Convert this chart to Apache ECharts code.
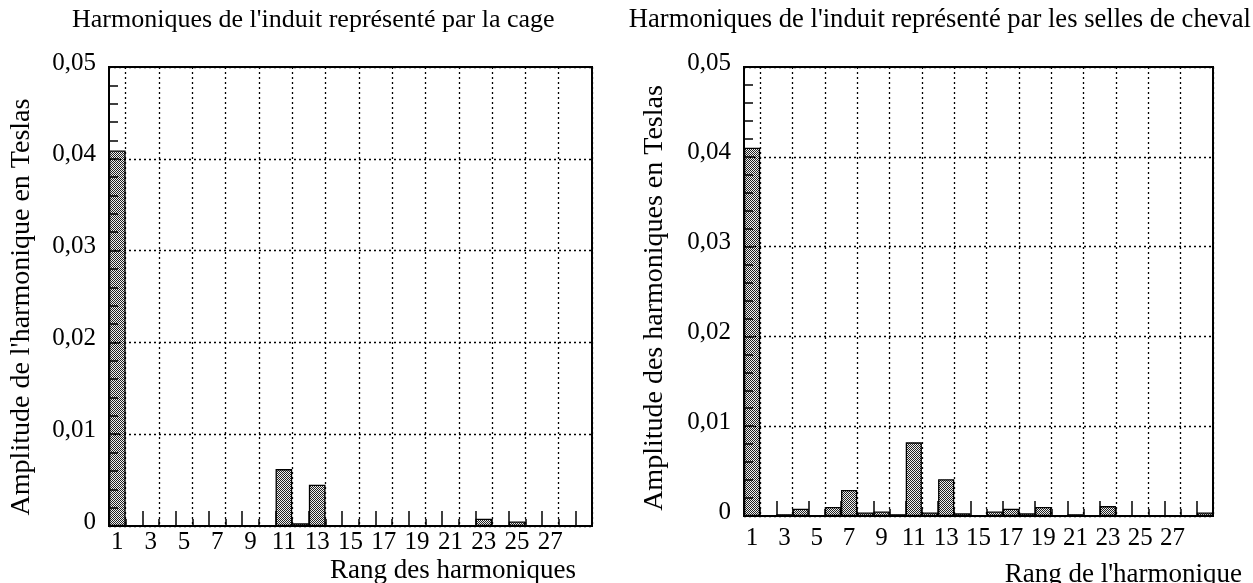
<!DOCTYPE html>
<html>
<head>
<meta charset="utf-8">
<script src="https://cdn.jsdelivr.net/npm/echarts@6/dist/echarts.min.js"></script>
<style>
  html, body { margin: 0; padding: 0; background: #fff; }
  #chart { width: 1253px; height: 583px; }
</style>
</head>
<body>
<div id="chart"></div>
<script>
// Harmonic ranks 1..29 (one bar per rank)
const harmonicRanks = ['1','2','3','4','5','6','7','8','9','10','11','12','13','14','15',
  '16','17','18','19','20','21','22','23','24','25','26','27','28','29'];
// Ranks that carry a label under the axis
const labelledRanks = ['1','3','5','7','9','11','13','15','17','19','21','23','25','27'];

// Amplitude (T) of each harmonic, armature modelled as a squirrel cage
const cageAmplitude = [0.0409, 0.0001, 0, 0, 0, 0, 0, 0, 0, 0.0001,
  0.0062, 0.0003, 0.0045, 0.0001, 0, 0, 0, 0, 0, 0,
  0, 0, 0.0008, 0.0001, 0.0005, 0, 0, 0, 0];

// Amplitude (T) of each harmonic, armature modelled by saddle coils
const saddleAmplitude = [0.0410, 0.0001, 0.0002, 0.0008, 0, 0.0010, 0.0029, 0.0004, 0.0005, 0.0002,
  0.0082, 0.0004, 0.0041, 0.0003, 0.0001, 0.0005, 0.0008, 0.0003, 0.0010, 0.0001,
  0.0002, 0.0001, 0.0011, 0, 0, 0, 0, 0, 0.0004];

const titles = ["Harmoniques de l'induit représenté par la cage",
                "Harmoniques de l'induit représenté par les selles de cheval"];
const yNames = ["Amplitude de l'harmonique en Teslas", "Amplitude des harmoniques en Teslas"];
const xNames = ["Rang des harmoniques", "Rang de l'harmonique"];

const FONT = '"Liberation Serif", "DejaVu Serif", serif';

// fine stipple used to fill the bars
function stipple() {
  const c = document.createElement('canvas');
  c.width = 4; c.height = 4;
  const g = c.getContext('2d');
  g.fillStyle = '#f0f0f0';
  g.fillRect(0, 0, 4, 4);
  g.fillStyle = '#222';
  const dots = [[0,0],[2,0],[1,1],[3,1],[0,2],[2,2],[1,3],[3,3]];
  dots.forEach(d => g.fillRect(d[0], d[1], 1, 1));
  return c;
}
const barFill = { image: stipple(), repeat: 'repeat' };

const grids = [
  { left: 109, top: 67, width: 483, height: 459 },
  { left: 744, top: 67, width: 469, height: 449 }
];
const labelMargins = [4, 10];

function yFmt(v) {
  return v === 0 ? '0' : v.toFixed(2).replace('.', ',');
}

const xAxes = [];
const yAxes = [];
const series = [];
[cageAmplitude, saddleAmplitude].forEach((vals, i) => {
  // main category axis: long ticks and dotted grid every two ranks
  xAxes.push({
    type: 'category', gridIndex: i, data: harmonicRanks, position: 'bottom',
    axisLine: { lineStyle: { color: '#000', width: 2 } },
    axisTick: { show: true, inside: true, length: 15, alignWithLabel: false,
      interval: (idx) => idx % 2 === 0, lineStyle: { color: '#000', width: 1.5 } },
    axisLabel: { interval: 0, margin: labelMargins[i], color: '#000',
      fontFamily: FONT, fontSize: 25,
      formatter: (v) => labelledRanks.indexOf(v) >= 0 ? v : '' },
    splitLine: { show: true, interval: (idx) => idx % 2 === 1,
      lineStyle: { color: '#000', type: [2, 3], width: 1.3 } },
    z: 4
  });
  // overlay axis: short ticks at every rank boundary
  xAxes.push({
    type: 'category', gridIndex: i, data: harmonicRanks, position: 'bottom',
    axisLine: { show: false },
    axisTick: { show: true, inside: true, length: 7, alignWithLabel: false,
      interval: 0, lineStyle: { color: '#000', width: 1.5 } },
    axisLabel: { show: false },
    splitLine: { show: false },
    z: 4
  });
  yAxes.push({
    type: 'value', gridIndex: i, min: 0, max: 0.05, interval: 0.01,
    axisLine: { show: true, lineStyle: { color: '#000', width: 2 } },
    axisTick: { show: true, inside: true, length: 10, lineStyle: { color: '#000', width: 1.5 } },
    minorTick: { show: true, splitNumber: 5, length: 9, lineStyle: { color: '#000', width: 1.5 } },
    axisLabel: { margin: 13, color: '#000', fontFamily: FONT, fontSize: 25,
      formatter: yFmt, verticalAlign: 'bottom', lineHeight: 8 },
    splitLine: { show: true, lineStyle: { color: '#000', type: [2, 3], width: 1.3 } },
    z: 4
  });
  series.push({
    type: 'bar', xAxisIndex: i * 2, yAxisIndex: i, data: vals,
    barCategoryGap: '0%',
    itemStyle: { color: barFill, borderColor: '#000', borderWidth: 1.3 },
    silent: true, z: 2
  });
});

const graphic = [
  { type: 'text', left: 72, top: 7, style: { text: titles[0], font: '26px ' + FONT, fill: '#000' } },
  { type: 'text', right: 2, top: 7, style: { text: titles[1], font: '26.6px ' + FONT, fill: '#000' } },
  { type: 'text', x: 22, y: 307, rotation: Math.PI / 2,
    style: { text: yNames[0], font: '28px ' + FONT, fill: '#000', align: 'center', verticalAlign: 'middle' } },
  { type: 'text', x: 655, y: 298, rotation: Math.PI / 2,
    style: { text: yNames[1], font: '28px ' + FONT, fill: '#000', align: 'center', verticalAlign: 'middle' } },
  { type: 'text', x: 330, y: 571,
    style: { text: xNames[0], font: '27px ' + FONT, fill: '#000', align: 'left', verticalAlign: 'middle' } },
  { type: 'text', x: 1242, y: 575,
    style: { text: xNames[1], font: '27px ' + FONT, fill: '#000', align: 'right', verticalAlign: 'middle' } }
];

const chart = echarts.init(document.getElementById('chart'), null, { renderer: 'canvas' });
chart.setOption({
  animation: false,
  backgroundColor: '#fff',
  grid: grids.map(g => Object.assign({ show: true, borderColor: '#000', borderWidth: 2,
    backgroundColor: 'transparent', containLabel: false }, g)),
  xAxis: xAxes,
  yAxis: yAxes,
  series: series,
  graphic: graphic
});
</script>
</body>
</html>
